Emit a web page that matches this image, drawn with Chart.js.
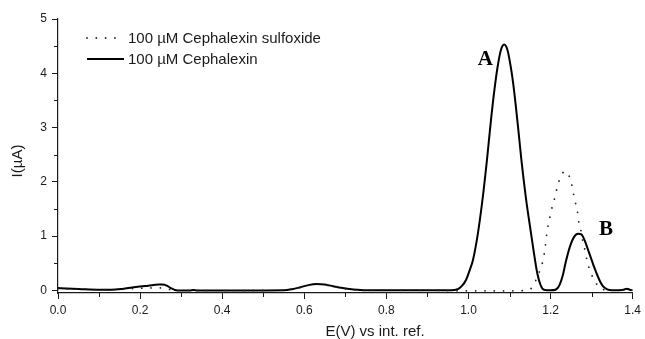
<!DOCTYPE html>
<html><head><meta charset="utf-8">
<script src="https://cdn.jsdelivr.net/npm/chart.js@4"></script>
<style>html,body{margin:0;padding:0;background:#fff}</style>
</head><body>
<canvas id="c" width="645" height="339"></canvas>
<script>
// ---- data ----
const seriesLabels = ['100 µM Cephalexin sulfoxide', '100 µM Cephalexin'];

const sulfoxideE = [0.00,0.05,0.10,0.15,0.18,0.21,0.24,0.26,0.275,0.29,0.40,0.55,0.57,0.59,0.61,0.63,0.65,0.67,0.69,0.72,0.75,0.90,1.00,1.10,1.14,1.150,1.158,1.166,1.176,1.182,1.187,1.191,1.194,1.199,1.204,1.210,1.215,1.221,1.229,1.236,1.243,1.250,1.255,1.259,1.265,1.267,1.272,1.280,1.285,1.289,1.296,1.304,1.318,1.330,1.35,1.40];
const sulfoxideI = [0.03,0.02,0.01,0.015,0.03,0.04,0.045,0.035,0.01,0.0,-0.005,0.0,0.02,0.05,0.09,0.11,0.10,0.07,0.04,0.01,0.0,0.0,-0.01,-0.01,0.0,0.02,0.08,0.22,0.41,0.57,0.80,1.05,1.20,1.37,1.54,1.70,1.86,2.02,2.16,2.19,2.14,2.00,1.82,1.65,1.49,1.33,1.17,0.85,0.71,0.54,0.37,0.22,0.06,0.01,0.0,0.0];

const cephalexinE = [0.00,0.05,0.10,0.13,0.16,0.19,0.22,0.245,0.255,0.265,0.275,0.285,0.30,0.32,0.33,0.34,0.45,0.55,0.57,0.59,0.61,0.63,0.65,0.67,0.69,0.72,0.75,0.85,0.95,0.965,0.974,0.984,0.994,1.002,1.011,1.023,1.034,1.045,1.055,1.063,1.071,1.079,1.087,1.095,1.103,1.109,1.116,1.122,1.129,1.140,1.151,1.160,1.168,1.176,1.184,1.200,1.212,1.222,1.230,1.237,1.247,1.257,1.267,1.275,1.283,1.292,1.300,1.306,1.316,1.326,1.338,1.350,1.378,1.386,1.393,1.400];
const cephalexinI = [0.04,0.025,0.01,0.01,0.03,0.06,0.085,0.105,0.105,0.085,0.04,0.005,-0.005,-0.005,0.005,-0.005,-0.005,0.0,0.02,0.055,0.095,0.115,0.105,0.075,0.045,0.015,0.0,0.0,0.0,0.005,0.02,0.08,0.19,0.35,0.56,1.05,1.66,2.40,3.15,3.68,4.12,4.43,4.53,4.43,4.12,3.81,3.35,2.92,2.40,1.70,1.12,0.66,0.30,0.09,0.01,0.0,0.01,0.10,0.28,0.52,0.80,0.98,1.04,1.03,0.92,0.73,0.56,0.43,0.24,0.09,0.015,0.0,0.01,0.03,0.01,0.0];

const xTicks = [0.0,0.2,0.4,0.6,0.8,1.0,1.2,1.4];
const xMinorTicks = [0.1,0.3,0.5,0.7,0.9,1.1,1.3];
const yTicks = [0,1,2,3,4,5];
const yMinorTicks = [0.5,1.5,2.5,3.5,4.5];
const xTitle = 'E(V) vs int. ref.';
const yTitle = 'I(µA)';
const peakLabels = ['A','B'];
const peakLabelE = [1.041,1.335];
const peakLabelI = [4.26,1.12];

// ---- chart ----
const INK = '#1a1a1a';
const SANS = '"Liberation Sans", Arial, sans-serif';
const SERIF = '"Liberation Serif", "Times New Roman", serif';

const toPts = (xs, ys) => xs.map((x, i) => ({x: x, y: ys[i]}));

const extras = {
  id: 'extras',
  afterDraw(chart) {
    const ctx = chart.ctx;
    const xs = chart.scales.x, ys = chart.scales.y;
    const area = chart.chartArea;
    ctx.save();
    // minor ticks
    ctx.strokeStyle = INK; ctx.lineWidth = 1;
    xMinorTicks.forEach(v => {
      const px = Math.round(xs.getPixelForValue(v)) + 0.5;
      ctx.beginPath(); ctx.moveTo(px, area.bottom); ctx.lineTo(px, area.bottom + 4); ctx.stroke();
    });
    yMinorTicks.forEach(v => {
      const py = Math.round(ys.getPixelForValue(v)) + 0.5;
      ctx.beginPath(); ctx.moveTo(area.left, py); ctx.lineTo(area.left - 4, py); ctx.stroke();
    });
    // axis titles
    ctx.fillStyle = INK;
    ctx.font = '15px ' + SANS;
    ctx.textAlign = 'center'; ctx.textBaseline = 'middle';
    ctx.fillText(xTitle, 375, 332);
    ctx.save();
    ctx.translate(18, 161); ctx.rotate(-Math.PI / 2);
    ctx.fillText(yTitle, 0, 0);
    ctx.restore();
    // legend
    const legendY = [38, 59];
    chart.data.datasets.forEach((ds, i) => {
      ctx.save();
      ctx.strokeStyle = ds.borderColor;
      ctx.lineWidth = ds.borderWidth;
      ctx.lineCap = ds.borderCapStyle || 'butt';
      ctx.setLineDash(ds.borderDash || []);
      ctx.beginPath(); ctx.moveTo(87, legendY[i]); ctx.lineTo(124, legendY[i]); ctx.stroke();
      ctx.restore();
      ctx.fillStyle = INK;
      ctx.font = '15px ' + SANS;
      ctx.textAlign = 'left'; ctx.textBaseline = 'middle';
      ctx.fillText(ds.label, 128, legendY[i] + 1);
    });
    // peak labels
    ctx.font = 'bold 21px ' + SERIF;
    ctx.fillStyle = '#000';
    ctx.textAlign = 'center'; ctx.textBaseline = 'middle';
    peakLabels.forEach((t, i) => {
      ctx.fillText(t, xs.getPixelForValue(peakLabelE[i]), ys.getPixelForValue(peakLabelI[i]));
    });
    ctx.restore();
  }
};

new Chart(document.getElementById('c'), {
  type: 'line',
  data: {
    datasets: [
      {
        label: seriesLabels[0],
        data: toPts(sulfoxideE, sulfoxideI),
        borderColor: '#222',
        borderWidth: 1.8,
        borderDash: [0.01, 9.3],
        borderCapStyle: 'round',
        pointRadius: 0,
        fill: false,
        cubicInterpolationMode: 'monotone'
      },
      {
        label: seriesLabels[1],
        data: toPts(cephalexinE, cephalexinI),
        borderColor: '#000',
        borderWidth: 2,
        pointRadius: 0,
        fill: false,
        cubicInterpolationMode: 'monotone'
      }
    ]
  },
  options: {
    responsive: false,
    animation: false,
    devicePixelRatio: 1,
    layout: { padding: { left: 0, top: 19, right: 11, bottom: 0 } },
    plugins: { legend: { display: false }, tooltip: { enabled: false } },
    scales: {
      x: {
        type: 'linear', min: 0, max: 1.4,
        afterBuildTicks: s => { s.ticks = xTicks.map(v => ({value: v})); },
        afterFit: s => { s.height = 46; },
        ticks: { color: INK, font: { family: SANS, size: 12 }, padding: 4,
                 callback: v => Number(v).toFixed(1), maxRotation: 0, autoSkip: false },
        grid: { drawOnChartArea: false, drawTicks: true, tickLength: 6, color: INK, lineWidth: 1 },
        border: { display: true, color: INK, width: 1.2 },
        title: { display: false }
      },
      y: {
        type: 'linear', min: -0.05, max: 5,
        afterBuildTicks: s => { s.ticks = yTicks.map(v => ({value: v})); },
        afterFit: s => { s.width = 58; },
        ticks: { color: INK, font: { family: SANS, size: 12 }, padding: 5,
                 callback: v => String(Math.round(v)) },
        grid: { drawOnChartArea: false, drawTicks: true, tickLength: 6, color: INK, lineWidth: 1 },
        border: { display: true, color: INK, width: 1.2 },
        title: { display: false }
      }
    }
  },
  plugins: [extras]
});
</script>
</body></html>
